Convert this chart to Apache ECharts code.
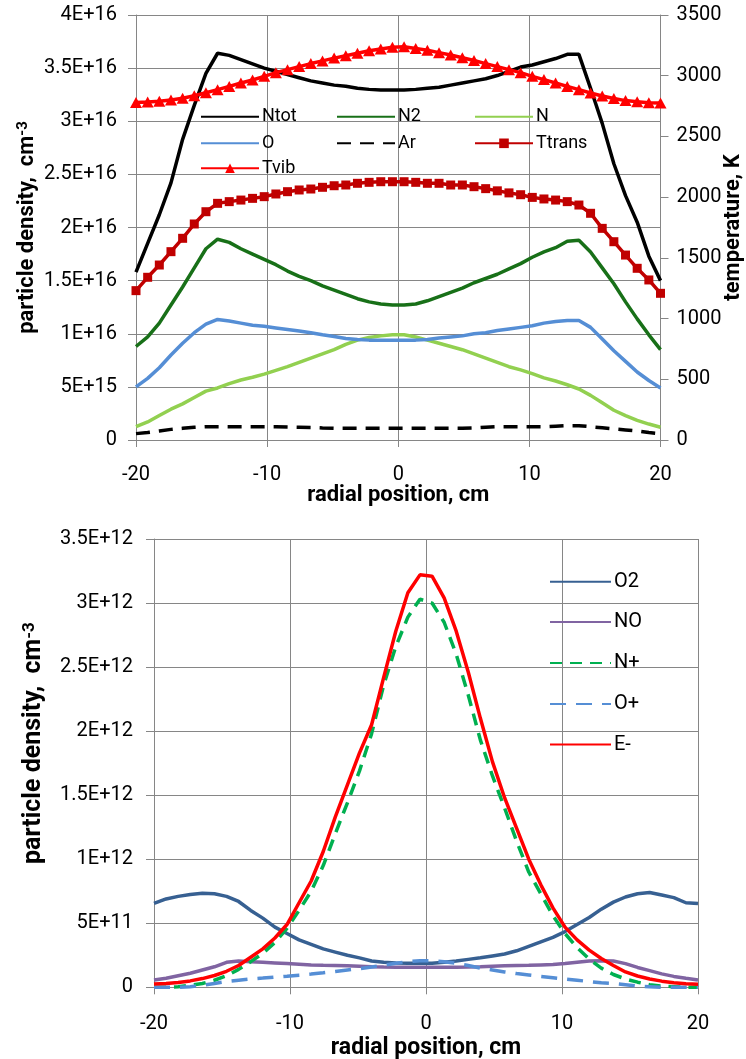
<!DOCTYPE html>
<html><head><meta charset="utf-8">
<script src="https://cdn.jsdelivr.net/npm/echarts@6/dist/echarts.min.js"></script>
<style>html,body{margin:0;padding:0;background:#fff}#c{width:746px;height:1059px}</style>
</head><body><div id="c"></div>
<script>
// ---- data: radial positions (cm) ----
const xPos = [-20, -19.111, -18.222, -17.333, -16.444, -15.556, -14.667, -13.778, -12.889, -12, -11.111, -10.222, -9.333, -8.444, -7.556, -6.667, -5.778, -4.889, -4, -3.111, -2.222, -1.333, -0.444,
              0.444, 1.333, 2.222, 3.111, 4, 4.889, 5.778, 6.667, 7.556, 8.444, 9.333, 10.222, 11.111, 12, 12.889, 13.778, 14.667, 15.556, 16.444, 17.333, 18.222, 19.111, 20];

// ---- top chart: particle densities (units of 1E+16 cm^-3) ----
const nTotE16 = [1.58, 1.85, 2.12, 2.42, 2.83, 3.15, 3.45, 3.64, 3.62, 3.58, 3.54, 3.50, 3.47, 3.44, 3.41, 3.38, 3.36, 3.34, 3.33, 3.31, 3.30, 3.295, 3.295,
                 3.295, 3.30, 3.31, 3.32, 3.34, 3.36, 3.38, 3.40, 3.43, 3.47, 3.51, 3.53, 3.56, 3.59, 3.63, 3.63, 3.31, 2.98, 2.60, 2.30, 2.05, 1.73, 1.50];
const n2E16 = [0.88, 0.97, 1.10, 1.27, 1.44, 1.62, 1.80, 1.89, 1.86, 1.80, 1.75, 1.70, 1.65, 1.59, 1.54, 1.50, 1.45, 1.41, 1.37, 1.33, 1.30, 1.28, 1.27,
               1.27, 1.28, 1.31, 1.35, 1.39, 1.43, 1.48, 1.52, 1.56, 1.61, 1.66, 1.72, 1.77, 1.81, 1.87, 1.88, 1.77, 1.62, 1.47, 1.30, 1.14, 0.99, 0.85];
const nE16 = [0.125, 0.17, 0.23, 0.29, 0.34, 0.40, 0.46, 0.49, 0.53, 0.565, 0.59, 0.62, 0.655, 0.69, 0.73, 0.77, 0.81, 0.85, 0.90, 0.94, 0.965, 0.98, 0.99,
              0.99, 0.97, 0.94, 0.91, 0.88, 0.85, 0.81, 0.77, 0.73, 0.69, 0.66, 0.625, 0.585, 0.555, 0.52, 0.48, 0.42, 0.35, 0.28, 0.23, 0.185, 0.15, 0.12];
const oE16 = [0.50, 0.58, 0.68, 0.80, 0.91, 1.01, 1.09, 1.135, 1.12, 1.10, 1.08, 1.07, 1.055, 1.04, 1.025, 1.01, 0.99, 0.975, 0.955, 0.945, 0.94, 0.94, 0.94,
              0.94, 0.94, 0.945, 0.96, 0.97, 0.98, 1.00, 1.01, 1.03, 1.045, 1.06, 1.075, 1.10, 1.115, 1.125, 1.125, 1.06, 0.95, 0.84, 0.74, 0.64, 0.56, 0.49];
const arE16 = [0.06, 0.07, 0.085, 0.10, 0.11, 0.12, 0.125, 0.125, 0.125, 0.125, 0.125, 0.125, 0.125, 0.122, 0.12, 0.118, 0.113, 0.11, 0.11, 0.11, 0.11, 0.11, 0.11,
               0.11, 0.11, 0.11, 0.11, 0.11, 0.11, 0.113, 0.12, 0.125, 0.125, 0.125, 0.125, 0.125, 0.13, 0.135, 0.135, 0.125, 0.115, 0.105, 0.095, 0.085, 0.07, 0.06];
// ---- top chart: temperatures (K) ----
const tTransK = [1230, 1340, 1441, 1551, 1661, 1779, 1880, 1949, 1963, 1976, 1990, 2004, 2026, 2045, 2059, 2067, 2081, 2094, 2100, 2114, 2122, 2127, 2127,
                 2127, 2122, 2114, 2114, 2100, 2100, 2086, 2070, 2052, 2035, 2020, 1998, 1985, 1976, 1963, 1935, 1867, 1743, 1633, 1523, 1414, 1318, 1208];
const tVibK = [2780, 2783, 2790, 2800, 2815, 2835, 2860, 2885, 2912, 2940, 2965, 2995, 3025, 3050, 3075, 3100, 3122, 3145, 3165, 3185, 3205, 3220, 3235,
               3238, 3225, 3210, 3190, 3170, 3148, 3125, 3100, 3075, 3050, 3025, 2995, 2968, 2940, 2912, 2885, 2858, 2833, 2812, 2795, 2785, 2778, 2775];

// ---- bottom chart: particle densities (units of 1E+12 cm^-3) ----
const o2E12 = [0.655, 0.69, 0.71, 0.725, 0.735, 0.73, 0.71, 0.67, 0.60, 0.54, 0.47, 0.42, 0.37, 0.335, 0.30, 0.275, 0.25, 0.23, 0.205, 0.195, 0.19, 0.188, 0.187,
               0.187, 0.195, 0.205, 0.218, 0.23, 0.245, 0.26, 0.285, 0.32, 0.355, 0.39, 0.435, 0.49, 0.545, 0.61, 0.665, 0.705, 0.73, 0.74, 0.72, 0.70, 0.66, 0.655];
const noE12 = [0.057, 0.07, 0.09, 0.11, 0.135, 0.16, 0.195, 0.205, 0.20, 0.195, 0.19, 0.185, 0.18, 0.175, 0.172, 0.17, 0.168, 0.165, 0.16, 0.158, 0.157, 0.156, 0.156,
               0.156, 0.156, 0.157, 0.158, 0.16, 0.165, 0.168, 0.17, 0.172, 0.175, 0.178, 0.185, 0.195, 0.205, 0.208, 0.205, 0.185, 0.155, 0.13, 0.105, 0.085, 0.07, 0.057];
const nPlusE12 = [0, 0, 0.005, 0.015, 0.03, 0.055, 0.09, 0.14, 0.20, 0.265, 0.35, 0.46, 0.60, 0.75, 0.95, 1.20, 1.44, 1.69, 1.98, 2.36, 2.66, 2.89, 3.03,
                  3.00, 2.85, 2.60, 2.28, 1.93, 1.65, 1.40, 1.14, 0.90, 0.73, 0.56, 0.42, 0.31, 0.22, 0.15, 0.10, 0.065, 0.04, 0.02, 0.01, 0.005, 0, 0];
const oPlusE12 = [0, 0, 0, 0.005, 0.015, 0.03, 0.045, 0.055, 0.065, 0.072, 0.08, 0.087, 0.095, 0.103, 0.113, 0.124, 0.135, 0.146, 0.158, 0.172, 0.188, 0.20, 0.207,
                  0.207, 0.20, 0.187, 0.17, 0.15, 0.135, 0.12, 0.107, 0.096, 0.085, 0.075, 0.065, 0.055, 0.045, 0.035, 0.03, 0.02, 0.01, 0.005, 0, 0, 0, 0];
const eMinusE12 = [0.025, 0.03, 0.038, 0.05, 0.068, 0.092, 0.125, 0.17, 0.235, 0.30, 0.385, 0.49, 0.66, 0.83, 1.06, 1.33, 1.58, 1.83, 2.05, 2.42, 2.78, 3.08, 3.22,
                   3.21, 3.04, 2.78, 2.46, 2.10, 1.76, 1.48, 1.24, 1.00, 0.80, 0.62, 0.47, 0.37, 0.29, 0.225, 0.17, 0.12, 0.088, 0.065, 0.048, 0.036, 0.028, 0.023];

// ---- tick labels ----
const yTicksTop = ['0', '5E+15', '1E+16', '1.5E+16', '2E+16', '2.5E+16', '3E+16', '3.5E+16', '4E+16'];
const yTicksBottom = ['0', '5E+11', '1E+12', '1.5E+12', '2E+12', '2.5E+12', '3E+12', '3.5E+12'];

// ---- build ----
const FONT = 'Roboto, "Noto Sans", sans-serif';
const GRID_C = '#868686';
const LW = 3.5;
const pair = ys => xPos.map((x, i) => [x, ys[i]]);

const axisLine = { show: true, onZero: false, lineStyle: { color: GRID_C, width: 1 } };
const tick = len => ({ show: true, inside: false, length: len, lineStyle: { color: GRID_C, width: 1 } });
const split = { show: true, lineStyle: { color: GRID_C, width: 1, type: 'solid' } };
const lbl = (extra) => Object.assign({ color: '#000', fontSize: 20, fontFamily: FONT }, extra);
const boldName = (fs, extra) => Object.assign({ color: '#000', fontSize: fs, fontWeight: 'bold', fontFamily: FONT,
  rich: { sup: { color: '#000', fontSize: Math.round(fs * 0.68), fontWeight: 'bold', fontFamily: FONT, verticalAlign: 'top' } } }, extra);

function line(name, data, color, xi, yi, extra) {
  return Object.assign({
    name, type: 'line', xAxisIndex: xi, yAxisIndex: yi, data: pair(data),
    symbol: 'none', showSymbol: false, smooth: false, animation: false,
    lineStyle: { color, width: LW }, itemStyle: { color },
    emphasis: { disabled: true }
  }, extra || {});
}
function leg(name, left, cy, fs, w, withMarker) {
  return { data: [name], left, top: cy - fs / 2, orient: 'horizontal', itemWidth: w, itemHeight: 12,
    itemGap: 0, padding: 0, selectedMode: false,
    itemStyle: withMarker ? {} : { opacity: 0 },
    textStyle: { fontSize: fs, color: '#000', fontFamily: FONT, lineHeight: fs, padding: [0, 0, 0, -2] } };
}

const option = {
  animation: false,
  backgroundColor: '#fff',
  textStyle: { fontFamily: FONT },
  grid: [
    { left: 136, top: 15, width: 524.5, height: 425, outerBoundsMode: 'none', containLabel: false },
    { left: 154, top: 539, width: 544, height: 448.3, outerBoundsMode: 'none', containLabel: false }
  ],
  xAxis: [
    { gridIndex: 0, type: 'value', min: -20, max: 20, interval: 10,
      axisLine, axisTick: tick(7), splitLine: split,
      axisLabel: lbl({ margin: 25, formatter: v => String(v) }),
      name: 'radial position, cm', nameLocation: 'middle', nameGap: 44, nameMoveOverlap: false, nameTextStyle: boldName(22) },
    { gridIndex: 1, type: 'value', min: -20, max: 20, interval: 10,
      axisLine, axisTick: tick(7), splitLine: split,
      axisLabel: lbl({ margin: 27, formatter: v => String(v) }),
      name: 'radial position, cm', nameLocation: 'middle', nameGap: 49, nameMoveOverlap: false, nameTextStyle: boldName(23) }
  ],
  yAxis: [
    { gridIndex: 0, type: 'value', position: 'left', min: 0, max: 4, interval: 0.5,
      axisLine, axisTick: tick(8), splitLine: split,
      axisLabel: lbl({ margin: 19, formatter: v => yTicksTop[Math.round(v / 0.5)] }),
      name: 'particle density,  cm{sup|-3}', nameLocation: 'middle', nameGap: 98, nameRotate: 90, nameMoveOverlap: false,
      nameTextStyle: boldName(22) },
    { gridIndex: 0, type: 'value', position: 'right', min: 0, max: 3500, interval: 500,
      axisLine, axisTick: tick(8), splitLine: { show: false },
      axisLabel: lbl({ margin: 16, formatter: v => String(v) }),
      name: 'temperature, K', nameLocation: 'middle', nameGap: 62, nameRotate: 90, nameMoveOverlap: false,
      nameTextStyle: boldName(22) },
    { gridIndex: 1, type: 'value', position: 'left', min: 0, max: 3.5, interval: 0.5,
      axisLine, axisTick: tick(8), splitLine: split,
      axisLabel: lbl({ margin: 21, formatter: v => yTicksBottom[Math.round(v / 0.5)] }),
      name: 'particle density,  cm{sup|-3}', nameLocation: 'middle', nameGap: 108, nameRotate: 90, nameMoveOverlap: false,
      nameTextStyle: boldName(25, { padding: [0, 0, 0, 40] }) }
  ],
  legend: [
    leg('Ntot', 200, 116.7, 18, 58), leg('N2', 336, 116.7, 18, 58), leg('N', 474, 116.7, 18, 58),
    leg('O', 200, 143.3, 18, 58), leg('Ar', 336, 143.3, 18, 58), leg('Ttrans', 474, 143.3, 18, 58, true),
    leg('Tvib', 200, 168.3, 18, 58, true),
    leg('O2', 549, 581.7, 20, 61), leg('NO', 549, 622, 20, 61), leg('N+', 549, 663, 20, 61),
    leg('O+', 549, 704, 20, 61), leg('E-', 549, 744.5, 20, 61)
  ],
  series: [
    line('Ntot', nTotE16, '#000000', 0, 0),
    line('N2', n2E16, '#187018', 0, 0),
    line('N', nE16, '#92D050', 0, 0),
    line('O', oE16, '#558ED5', 0, 0),
    line('Ar', arE16, '#000000', 0, 0, { lineStyle: { color: '#000', width: LW, type: [14, 9] } }),
    line('Ttrans', tTransK, '#C00000', 0, 1, { symbol: 'rect', symbolSize: 9, showSymbol: true }),
    line('Tvib', tVibK, '#FF0000', 0, 1, { symbol: 'triangle', symbolSize: [12, 11], showSymbol: true }),
    line('O2', o2E12, '#376092', 1, 2),
    line('NO', noE12, '#8064A2', 1, 2),
    line('N+', nPlusE12, '#00B050', 1, 2, { lineStyle: { color: '#00B050', width: LW, type: [12, 8] } }),
    line('O+', oPlusE12, '#558ED5', 1, 2, { lineStyle: { color: '#558ED5', width: LW, type: [16, 10] } }),
    line('E-', eMinusE12, '#FF0000', 1, 2)
  ]
};

const chart = echarts.init(document.getElementById('c'), null, { renderer: 'canvas' });
chart.setOption(option);
</script>
</body></html>
